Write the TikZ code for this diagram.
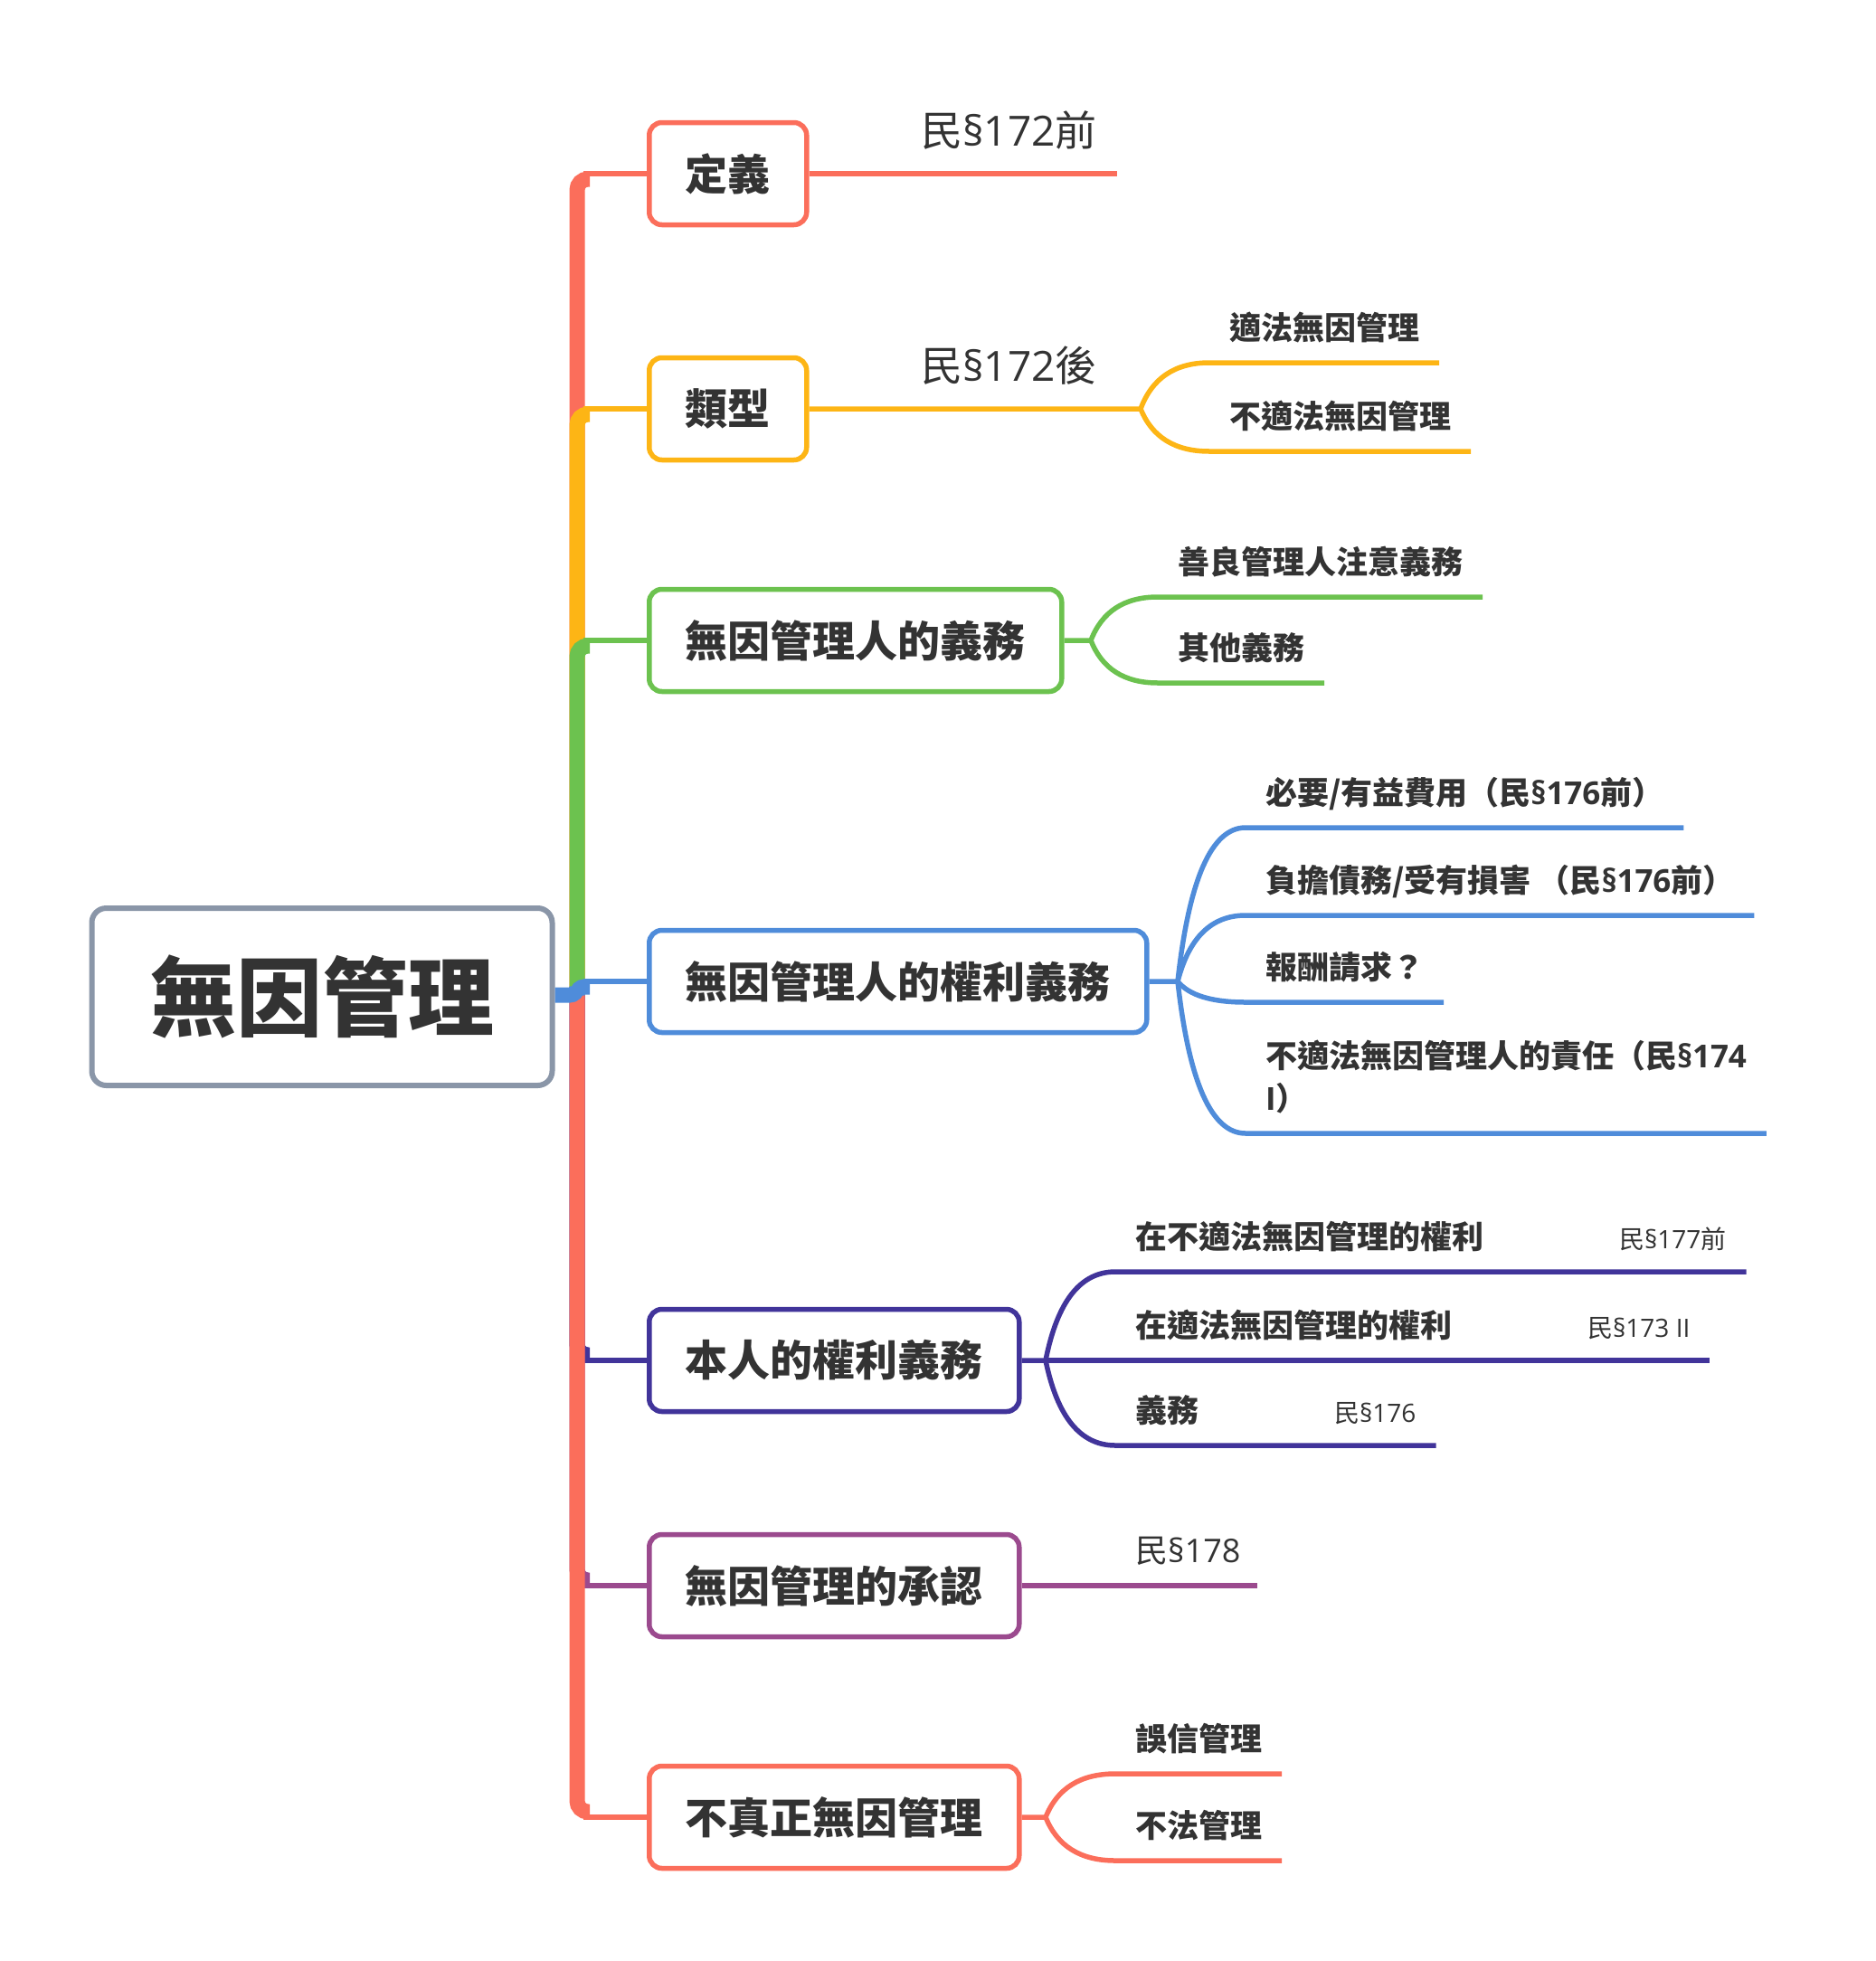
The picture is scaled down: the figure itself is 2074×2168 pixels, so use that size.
\documentclass[tikz,border=0pt]{standalone}
\usepackage{fontspec}
\setmainfont{Noto Sans CJK TC}
\newfontfamily\lat{Open Sans}
\usetikzlibrary{positioning, calc}
\definecolor{Ink}{HTML}{333333}
\definecolor{RootGray}{HTML}{8A96A8}
\definecolor{CoralRed}{HTML}{FB6E5B}
\definecolor{Amber}{HTML}{FDB515}
\definecolor{LeafGreen}{HTML}{6CC24F}
\definecolor{SkyBlue}{HTML}{4F8CDA}
\definecolor{DeepIndigo}{HTML}{41349A}
\definecolor{Plum}{HTML}{9B4A8E}
\newcommand{\lawref}[1]{\hspace{150pt}{\fontsize{28}{34}\selectfont\mdseries #1}}

\begin{document}
\begin{tikzpicture}[x=1pt, y=-1pt,
    topic/.style={draw=#1, line width=5.5pt, rounded corners=14pt, fill=white,
      anchor=west, minimum height=113pt, inner xsep=40pt, text=Ink,
      font=\fontsize{47}{56}\selectfont\bfseries},
    leaf/.style={anchor=south west, inner xsep=22pt, inner ysep=26pt, outer sep=0pt,
      text depth=0pt, text=Ink, font=\fontsize{35}{47}\selectfont\bfseries},
    lawtag/.style={anchor=base west, inner sep=0pt, text=Ink},
    trunk/.style={line width=17pt, rounded corners=12pt},
    limb/.style={line width=5.5pt},
    sprout/.style={to path={let \p1=(\tikztostart), \p2=(\tikztotarget) in
      .. controls ({(5*\x1+\x2)/6},{(\y1+2*\y2)/3}) and ({(\x1+\x2)/2},\y2) .. (\tikztotarget)}}]
\useasboundingbox (0,0) rectangle (2074,2168);

\node[draw=RootGray, line width=6pt, rounded corners=16pt, fill=white,
      minimum width=509pt, minimum height=196pt, text=Ink,
      font=\fontsize{95}{110}\selectfont\bfseries] (root) at (356,1102) {無因管理};

\node[topic=CoralRed] (dingyi) at (715,192) {定義};
\node[topic=Amber] (leixing) at (715,452) {類型};
\node[topic=LeafGreen] (yiwu) at (715,708) {無因管理人的義務};
\node[topic=SkyBlue] (quanli) at (715,1085) {無因管理人的權利義務};
\node[topic=DeepIndigo] (benren) at (715,1504) {本人的權利義務};
\node[topic=Plum] (chengren) at (715,1753) {無因管理的承認};
\node[topic=CoralRed] (buzhen) at (715,2009) {不真正無因管理};

% trunk
\coordinate (hub) at (638,1100);
\draw[trunk, CoralRed] (hub) |- (652,198);
\draw[limb, CoralRed] (645,192) -- (dingyi.west);
\draw[trunk, Amber] (hub) |- (652,458);
\draw[limb, Amber] (645,452) -- (leixing.west);
\draw[trunk, LeafGreen] (hub) |- (652,714);
\draw[limb, LeafGreen] (645,708) -- (yiwu.west);
\draw[trunk, DeepIndigo] (hub) |- (652,1498);
\draw[limb, DeepIndigo] (645,1504) -- (benren.west);
\draw[trunk, Plum] (hub) |- (652,1747);
\draw[limb, Plum] (645,1753) -- (chengren.west);
\draw[trunk, CoralRed] (hub) |- (652,2003);
\draw[limb, CoralRed] (645,2009) -- (buzhen.west);
\draw[trunk, SkyBlue, rounded corners=8pt] (root.east |- hub) -- (hub) |- (652,1091);
\draw[limb, SkyBlue] (645,1085) -- (quanli.west);

% 定義
\coordinate (dingyi-end) at (1235,192);
\draw[limb, CoralRed] (dingyi.east) -- (dingyi-end);
\node[lawtag, font=\fontsize{46}{56}\selectfont] (dingyi-ref) at (1018,161) {民{\lat §172}前};

% 類型
\coordinate (leixing-hub) at (1261,452);
\node[lawtag, font=\fontsize{46}{56}\selectfont] (leixing-ref) at (1018,421) {民{\lat §172}後};
\node[leaf] (shifa) at (1337,401) {適法無因管理};
\node[leaf] (bushifa) at (1337,499) {不適法無因管理};
\draw[limb, Amber] (leixing.east) -- (leixing-hub) to[sprout] (shifa.south west) -- (shifa.south east);
\draw[limb, Amber] (leixing-hub) to[sprout] (bushifa.south west) -- (bushifa.south east);

% 無因管理人的義務
\coordinate (yiwu-hub) at (1206,708);
\node[leaf] (shanliang) at (1280,660) {善良管理人注意義務};
\node[leaf] (qita) at (1280,755) {其他義務};
\draw[limb, LeafGreen] (yiwu.east) -- (yiwu-hub) to[sprout] (shanliang.south west) -- (shanliang.south east);
\draw[limb, LeafGreen] (yiwu-hub) to[sprout] (qita.south west) -- (qita.south east);

% 無因管理人的權利義務
\coordinate (quanli-hub) at (1302,1085);
\node[leaf] (feiyong) at (1377,915) {必要/有益費用（民{\lat §176}前）};
\node[leaf] (zhaiwu) at (1377,1012) {負擔債務/受有損害 （民{\lat §176}前）};
\node[leaf] (baochou) at (1377,1108) {報酬請求？};
\node[leaf, align=left] (zeren) at (1377,1253) {不適法無因管理人的責任（民{\lat §174}\\{\lat I}）};
\draw[limb, SkyBlue] (quanli.east) -- (quanli-hub) to[sprout] (feiyong.south west) -- (feiyong.south east);
\draw[limb, SkyBlue] (quanli-hub) to[sprout] (zhaiwu.south west) -- (zhaiwu.south east);
\draw[limb, SkyBlue] (quanli-hub) to[sprout] (baochou.south west) -- (baochou.south east);
\draw[limb, SkyBlue] (quanli-hub) to[sprout] (zeren.south west) -- (zeren.south east);

% 本人的權利義務
\coordinate (benren-hub) at (1156,1504);
\node[leaf] (buquan) at (1233,1406) {在不適法無因管理的權利\lawref{民{\lat §177}前}};
\node[leaf] (shiquan) at (1233,1504) {在適法無因管理的權利\lawref{民{\lat §173 II}}};
\node[leaf] (benyi) at (1233,1598) {義務\lawref{民{\lat §176}}};
\draw[limb, DeepIndigo] (benren.east) -- (benren-hub) to[sprout] (buquan.south west) -- (buquan.south east);
\draw[limb, DeepIndigo] (benren-hub) -- (shiquan.south west) -- (shiquan.south east);
\draw[limb, DeepIndigo] (benren-hub) to[sprout] (benyi.south west) -- (benyi.south east);

% 無因管理的承認
\coordinate (chengren-end) at (1390,1753);
\draw[limb, Plum] (chengren.east) -- (chengren-end);
\node[lawtag, font=\fontsize{36}{44}\selectfont] (chengren-ref) at (1255,1727) {民{\lat §178}};

% 不真正無因管理
\coordinate (buzhen-hub) at (1156,2009);
\node[leaf] (wuxin) at (1233,1961) {誤信管理};
\node[leaf] (bufa) at (1233,2057) {不法管理};
\draw[limb, CoralRed] (buzhen.east) -- (buzhen-hub) to[sprout] (wuxin.south west) -- (wuxin.south east);
\draw[limb, CoralRed] (buzhen-hub) to[sprout] (bufa.south west) -- (bufa.south east);
\end{tikzpicture}
\end{document}
